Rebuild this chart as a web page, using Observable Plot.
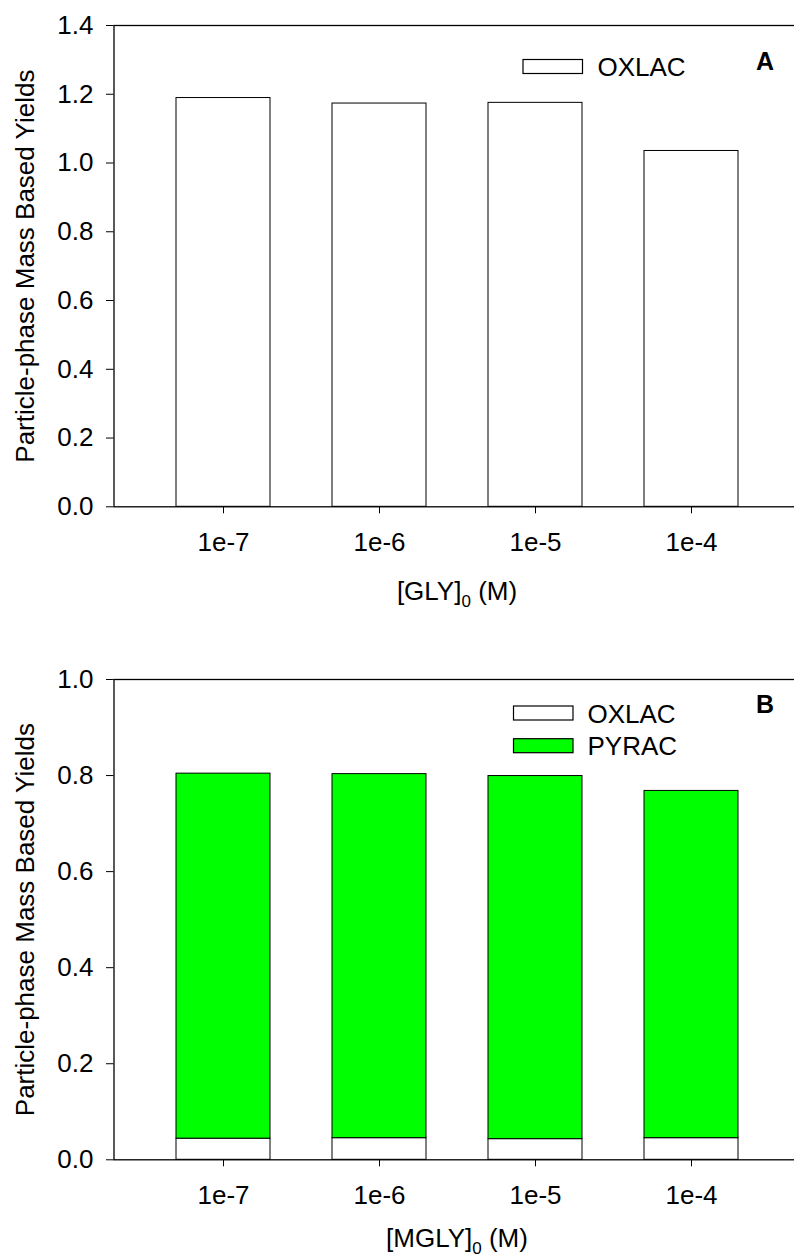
<!DOCTYPE html>
<html><head><meta charset="utf-8">
<script src="https://cdn.jsdelivr.net/npm/d3@7"></script>
<script src="https://cdn.jsdelivr.net/npm/@observablehq/plot@0.6"></script>
<style>
html,body{margin:0;padding:0;background:#fff;overflow:hidden;}
#chart{width:794px;height:1259px;position:relative;}
#chart svg{display:block;}
</style></head><body><div id="chart"></div>
<script>
// ---- data ----
const concentrations = ["1e-7", "1e-6", "1e-5", "1e-4"];
const seriesNames = ["OXLAC", "PYRAC"];
const seriesColors = ["#ffffff", "#00ff00"];
// Panel A: [GLY]0
const oxlacGLY = [1.189, 1.173, 1.175, 1.035];
// Panel B: [MGLY]0 (stacked)
const oxlacMGLY = [0.044, 0.045, 0.043, 0.045];
const pyracMGLY = [0.760, 0.758, 0.756, 0.723];
const yTicksA = [0, 0.2, 0.4, 0.6, 0.8, 1.0, 1.2, 1.4];
const yTicksB = [0, 0.2, 0.4, 0.6, 0.8, 1.0];
const yLabel = "Particle-phase Mass Based Yields";

const FONT = "'Liberation Sans', Arial, Helvetica, sans-serif";

function makePanel({data, height, marginTop, marginBottom, yDomain, yTicks}) {
  return Plot.plot({
    width: 794, height, marginLeft: 113.5, marginRight: -7, marginTop, marginBottom,
    style: {fontFamily: FONT, fontSize: "26px", color: "black", background: "white", overflow: "visible"},
    x: {domain: concentrations, paddingInner: 0.4, paddingOuter: 0.4, align: 0.5},
    y: {domain: yDomain},
    color: {domain: seriesNames, range: seriesColors},
    marks: [
      Plot.barY(data, {x: "conc", y: "value", fill: "series", stroke: "black", strokeWidth: 1}),
      Plot.frame({stroke: "black", strokeWidth: 1.3}),
      Plot.axisY({ticks: yTicks, tickFormat: d3.format(".1f"), tickSize: 7.5, tickPadding: 13,
        label: yLabel, labelAnchor: "center", labelOffset: 98.5, labelArrow: "none"}),
      Plot.axisX({tickSize: 7, tickPadding: 19, label: null})
    ]
  });
}

const dataA = concentrations.map((c, i) => ({conc: c, series: "OXLAC", value: oxlacGLY[i]}));
const dataB = [
  ...concentrations.map((c, i) => ({conc: c, series: "OXLAC", value: oxlacMGLY[i]})),
  ...concentrations.map((c, i) => ({conc: c, series: "PYRAC", value: pyracMGLY[i]}))
];

const plotA = makePanel({data: dataA, height: 640, marginTop: 25, marginBottom: 133.7, yDomain: [0, 1.4], yTicks: yTicksA});
const plotB = makePanel({data: dataB, height: 619, marginTop: 39, marginBottom: 99.7, yDomain: [0, 1.0], yTicks: yTicksB});

function decorate(svg, {legend, legendX, legendY, textX, letter, titleMain, titleY}) {
  const s = d3.select(svg);
  const g = s.append("g").attr("font-family", FONT).attr("fill", "black");
  legend.forEach((name, i) => {
    const y = legendY + i * 32.7;
    g.append("rect").attr("x", legendX).attr("y", y).attr("width", 59.5).attr("height", 14)
      .attr("fill", seriesColors[seriesNames.indexOf(name)]).attr("stroke", "black").attr("stroke-width", 1.2);
    g.append("text").attr("x", textX).attr("y", y + 16.5).attr("font-size", 26)
      .attr("text-anchor", "start").text(name);
  });
  g.append("text").attr("x", 774).attr("y", letter.y).attr("text-anchor", "end")
    .attr("font-size", 25).attr("font-weight", "bold").text(letter.text);
  const t = g.append("text").attr("x", 457).attr("y", titleY).attr("text-anchor", "middle").attr("font-size", 26);
  t.append("tspan").text(titleMain);
  t.append("tspan").attr("font-size", 17).attr("dy", 7).text("0");
  t.append("tspan").attr("dy", -7).text(" (M)");
}

decorate(plotA, {legend: ["OXLAC"], legendX: 523, legendY: 59.5, textX: 597.5,
  letter: {text: "A", y: 70}, titleMain: "[GLY]", titleY: 600});
decorate(plotB, {legend: ["OXLAC", "PYRAC"], legendX: 513.5, legendY: 66, textX: 587.5,
  letter: {text: "B", y: 72.7}, titleMain: "[MGLY]", titleY: 607});

document.getElementById("chart").append(plotA, plotB);
</script></body></html>
